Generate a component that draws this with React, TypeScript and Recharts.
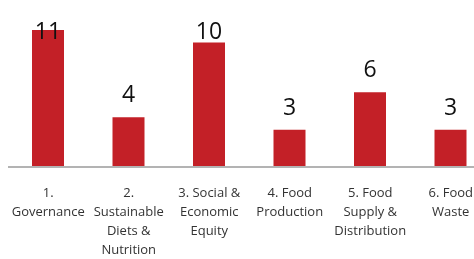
import React from "react";
import { BarChart, Bar, XAxis, YAxis, LabelList, Text } from "recharts";

const categories = [
  "1. Governance",
  "2. Sustainable Diets & Nutrition",
  "3. Social & Economic Equity",
  "4. Food Production",
  "5. Food Supply & Distribution",
  "6. Food Waste",
];
const counts = [11, 4, 10, 3, 6, 3];

const data = categories.map((name, i) => ({ name, value: counts[i] }));

const FONT = "'Open Sans', 'Noto Sans', sans-serif";
const BAR_COLOR = "#c32027";

const CategoryTick = (props: any) => {
  const { x, y, payload } = props;
  return (
    <Text
      x={x}
      y={y + 21}
      width={80}
      verticalAnchor="start"
      textAnchor="middle"
      lineHeight={19}
      fontSize={13}
      fontFamily={FONT}
      fill="#333333"
    >
      {payload.value}
    </Text>
  );
};

const ValueLabel = (props: any) => {
  const { x, y, width, value } = props;
  const baseline = Math.max(y - 15, 31);
  return (
    <text
      x={x + width / 2}
      y={baseline}
      textAnchor="middle"
      fontSize={23}
      fontFamily={FONT}
      fill="#111111"
    >
      {value}
    </text>
  );
};

export default function App() {
  return (
    <div
      style={{
        position: "fixed",
        left: 8,
        top: 8,
        width: 466,
        height: 251,
        overflow: "hidden",
      }}
    >
      <BarChart
        width={483}
        height={251}
        data={data}
        margin={{ top: 22, right: 0, bottom: 0, left: 0 }}
      >
        <XAxis
          dataKey="name"
          interval={0}
          tickLine={false}
          tickSize={0}
          tickMargin={0}
          height={92}
          axisLine={{ stroke: "#b3b3b3", strokeWidth: 2 }}
          tick={<CategoryTick />}
        />
        <YAxis hide domain={[0, 11]} />
        <Bar dataKey="value" fill={BAR_COLOR} barSize={32} isAnimationActive={false}>
          <LabelList dataKey="value" content={<ValueLabel />} />
        </Bar>
      </BarChart>
    </div>
  );
}
